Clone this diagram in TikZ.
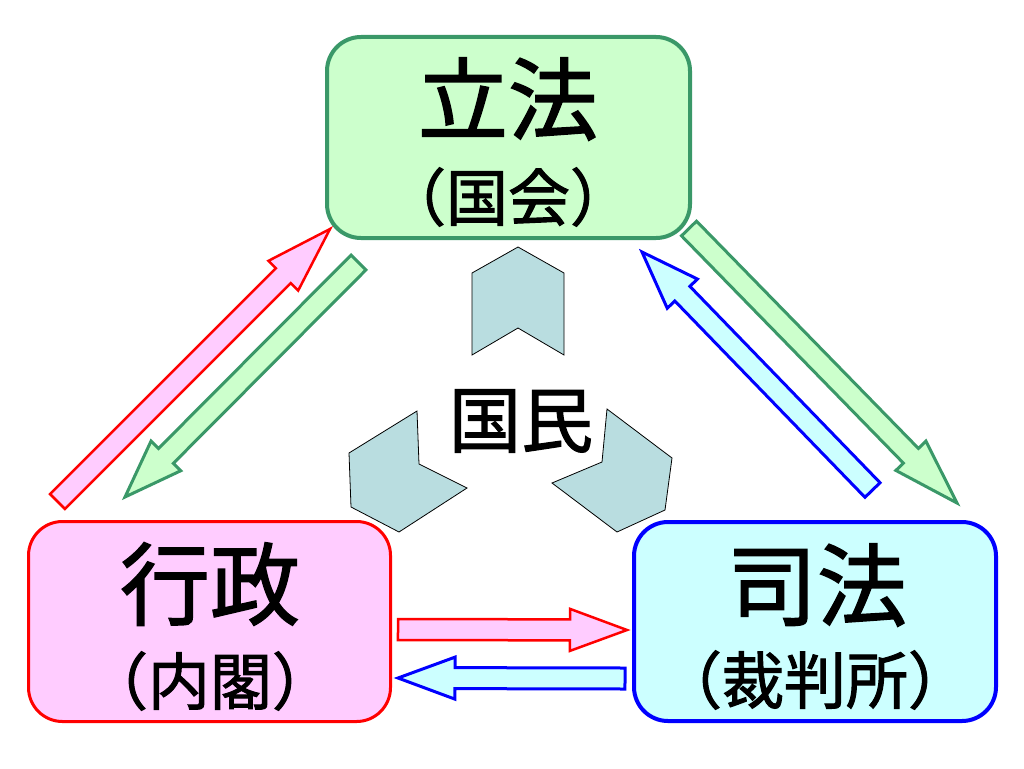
\documentclass[tikz,border=0pt]{standalone}
\usepackage{fontspec}
\setmainfont{Noto Sans CJK JP}[FakeBold=1.6]
\usetikzlibrary{calc}
\definecolor{grnline}{RGB}{58,152,104}
\definecolor{grnfill}{RGB}{204,255,204}
\definecolor{pinkfill}{RGB}{255,204,255}
\definecolor{cyanfill}{RGB}{204,255,255}
\definecolor{chevfill}{RGB}{185,221,224}
\newcommand\blkarrow[4]{%
  \coordinate (bn) at ($(#2)!#3!(#1)$);
  \draw[#4] ($(#1)!10.5pt!90:(#2)$) -- ($(bn)!10.5pt!-90:(#1)$) -- ($(bn)!21pt!-90:(#1)$)
    -- (#2) -- ($(bn)!21pt!90:(#1)$) -- ($(bn)!10.5pt!90:(#1)$) -- ($(#1)!10.5pt!-90:(#2)$) -- cycle;
}
\tikzset{
  box/.style={rounded corners=34pt, line width=4pt, inner sep=0pt},
  big/.style={font=\fontsize{90}{90}\selectfont, inner sep=0pt},
  sub/.style={font=\fontsize{62}{62}\selectfont, inner sep=0pt},
  mid/.style={font=\fontsize{72}{72}\selectfont, inner sep=0pt},
  chev/.style={fill=chevfill, draw=black, line width=0.8pt, line join=miter},
  redarr/.style={fill=pinkfill, draw=red, line width=2.5pt, line join=miter},
  grnarr/.style={fill=grnfill, draw=grnline, line width=3pt, line join=miter},
  bluarr/.style={fill=cyanfill, draw=blue, line width=3pt, line join=miter},
}
\begin{document}
\begin{tikzpicture}[x=1pt,y=-1pt]
\useasboundingbox[fill=white] (0,0) rectangle (1024,768);
% boxes
\node[box, draw=grnline, fill=grnfill, minimum width=363pt, minimum height=201pt] (leg) at (508.5,137.5) {};
\node[box, draw=red, fill=pinkfill, line width=3pt, minimum width=362pt, minimum height=200pt] (exe) at (209.5,621.5) {};
\node[box, draw=blue, fill=cyanfill, minimum width=362pt, minimum height=199pt] (jud) at (815,621.5) {};
% texts
\node[big] (legt) at (508,99) {立法};
\node[sub] (legs) at (508,197) {（国会）};
\node[big] (exet) at (210,584) {行政};
\node[sub] (exes) at (210,681) {（内閣）};
\node[big] (judt) at (817,585) {司法};
\node[sub] (juds) at (815,680) {（裁判所）};
\node[mid] (kokumin) at (521,421) {国民};
% chevrons
\draw[chev] (518,247) -- (564,273) -- (564,355) -- (518,328) -- (472,355) -- (472,273) -- cycle;
\draw[chev] (417,411) -- (419,464) -- (467,488) -- (399,532) -- (351,507) -- (349,453) -- cycle;
\draw[chev] (607,409) -- (672,458) -- (665,510) -- (617,532) -- (552,483) -- (602,462) -- cycle;
% arrow endpoints
\coordinate (t1) at (57.5,501.5); \coordinate (h1) at (330,229);
\coordinate (t2) at (358.5,262.5); \coordinate (h2) at (125,497);
\coordinate (t3) at (689,228.5); \coordinate (h3) at (957,503);
\coordinate (t4) at (872.5,490); \coordinate (h4) at (642,252);
\coordinate (t5) at (398,629.5); \coordinate (h5) at (627,630);
\coordinate (t6) at (625,678.5); \coordinate (h6) at (398,678);
\blkarrow{t1}{h1}{66pt}{redarr}
\blkarrow{t2}{h2}{58pt}{grnarr}
\blkarrow{t3}{h3}{66pt}{grnarr}
\blkarrow{t4}{h4}{58pt}{bluarr}
\blkarrow{t5}{h5}{57pt}{redarr}
\blkarrow{t6}{h6}{57pt}{bluarr}
\end{tikzpicture}
\end{document}
